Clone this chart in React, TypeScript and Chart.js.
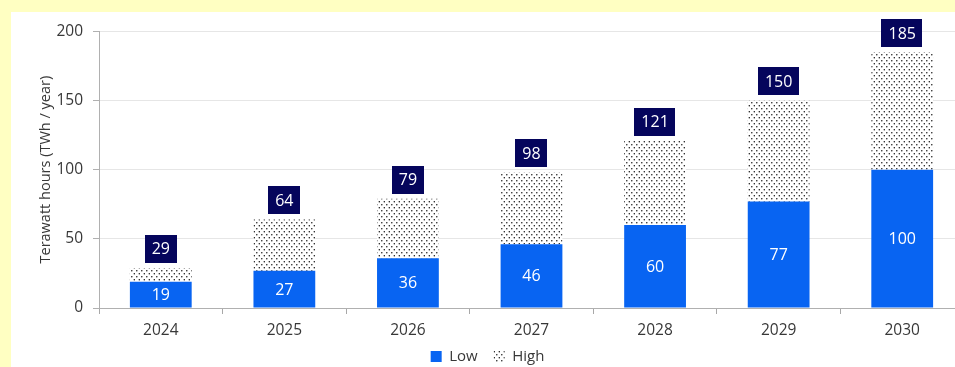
import { useEffect, useRef } from 'react';
import { Chart, registerables } from 'chart.js';

Chart.register(...registerables);

const categories = ['2024', '2025', '2026', '2027', '2028', '2029', '2030'];
const lowValues = [19, 27, 36, 46, 60, 77, 100];
const highValues = [10, 37, 43, 52, 61, 73, 85];
const totalValues = [29, 64, 79, 98, 121, 150, 185];
const yTicks = [0, 50, 100, 150, 200];

const FONT = "'Open Sans', 'Noto Sans', sans-serif";
const BLUE = '#0864f2';
const NAVY = '#05055c';
const TEXT = '#383838';

function makeDotPattern(ctx: CanvasRenderingContext2D): CanvasPattern | string {
  const c = document.createElement('canvas');
  c.width = 5;
  c.height = 6;
  const p = c.getContext('2d');
  if (!p) return '#ccc';
  p.fillStyle = '#ffffff';
  p.fillRect(0, 0, 5, 6);
  p.fillStyle = '#111111';
  p.beginPath();
  p.arc(0.8, 0.8, 0.75, 0, Math.PI * 2);
  p.arc(3.3, 3.8, 0.75, 0, Math.PI * 2);
  p.fill();
  return ctx.createPattern(c, 'repeat') || '#ccc';
}

const labelPlugin = {
  id: 'valueLabels',
  afterLayout(chart: any) {
    const lg = chart.legend;
    const xs = chart.scales.x;
    if (lg && xs) {
      lg.top = xs.bottom - 8;
      lg.bottom = Math.max(lg.bottom, chart.height);
    }
  },
  afterDatasetsDraw(chart: any) {
    const ctx = chart.ctx as CanvasRenderingContext2D;
    const m0 = chart.getDatasetMeta(0);
    const m1 = chart.getDatasetMeta(1);
    ctx.save();
    ctx.font = `16px ${FONT}`;
    ctx.textAlign = 'center';
    ctx.textBaseline = 'middle';
    m0.data.forEach((el: any, i: number) => {
      const { x, y, base } = el.getProps(['x', 'y', 'base'], true);
      ctx.fillStyle = '#ffffff';
      ctx.fillText(String(lowValues[i]), x, (y + base) / 2 + 1);
    });
    m1.data.forEach((el: any, i: number) => {
      const { x, y } = el.getProps(['x', 'y'], true);
      const txt = String(totalValues[i]);
      const w = ctx.measureText(txt).width + 14;
      const h = 28;
      const bottom = y - 5;
      ctx.fillStyle = NAVY;
      ctx.fillRect(Math.round(x - w / 2), Math.round(bottom - h), Math.round(w), h);
      ctx.fillStyle = '#ffffff';
      ctx.fillText(txt, x, bottom - h / 2 + 1);
    });
    ctx.restore();
  },
};

export default function App() {
  const ref = useRef<HTMLCanvasElement>(null);

  useEffect(() => {
    document.body.style.margin = '0';
    const canvas = ref.current;
    if (!canvas) return;
    const ctx = canvas.getContext('2d');
    if (!ctx) return;
    const dots = makeDotPattern(ctx);

    const chart = new Chart(canvas, {
      type: 'bar',
      data: {
        labels: categories,
        datasets: [
          {
            label: 'Low',
            data: lowValues,
            backgroundColor: BLUE,
            borderWidth: 0,
            barPercentage: 0.5,
            categoryPercentage: 1,
          },
          {
            label: 'High',
            data: highValues,
            backgroundColor: dots as any,
            borderWidth: 0,
            barPercentage: 0.5,
            categoryPercentage: 1,
          },
        ],
      },
      options: {
        animation: false,
        responsive: false,
        devicePixelRatio: 1,
        layout: { padding: { top: 18, left: 0, right: 0, bottom: 0 } },
        plugins: {
          tooltip: { enabled: false },
          legend: {
            position: 'bottom',
            maxHeight: 26,
            labels: {
              boxWidth: 11,
              boxHeight: 11,
              padding: 16,
              color: TEXT,
              font: { family: FONT, size: 15 },
            },
          },
        },
        scales: {
          x: {
            stacked: true,
            grid: {
              offset: true,
              drawOnChartArea: false,
              drawTicks: true,
              tickLength: 6,
              tickColor: '#a8a8a8',
            },
            border: { display: true, color: '#b0b0b0' },
            ticks: {
              color: TEXT,
              padding: 7,
              font: { family: FONT, size: 15.5 },
              maxRotation: 0,
            },
            afterFit: (s: any) => {
              s.height = 33;
            },
          },
          y: {
            stacked: true,
            min: 0,
            max: 200,
            afterBuildTicks: (s: any) => {
              s.ticks = yTicks.map((v) => ({ value: v }));
            },
            grid: {
              color: '#e6e6e6',
              tickColor: '#b0b0b0',
              tickLength: 6,
            },
            border: { display: true, color: '#b0b0b0' },
            ticks: {
              color: TEXT,
              padding: 10,
              font: { family: FONT, size: 15.5 },
            },
            title: {
              display: true,
              text: 'Terawatt hours (TWh / year)',
              color: TEXT,
              font: { family: FONT, size: 14.5 },
              padding: { top: 26, bottom: 0 },
            },
            afterFit: (s: any) => {
              s.width = 88;
            },
          },
        },
      },
      plugins: [labelPlugin],
    });

    return () => chart.destroy();
  }, []);

  return (
    <div style={{ position: 'fixed', inset: 0, background: '#ffffc2' }}>
      <div
        style={{
          position: 'absolute',
          left: 11,
          top: 12,
          width: 944,
          height: 355,
          background: '#ffffff',
          overflow: 'hidden',
        }}
      >
        <canvas
          ref={ref}
          width={953}
          height={355}
          style={{ display: 'block', width: 953, height: 355 }}
        />
      </div>
    </div>
  );
}
